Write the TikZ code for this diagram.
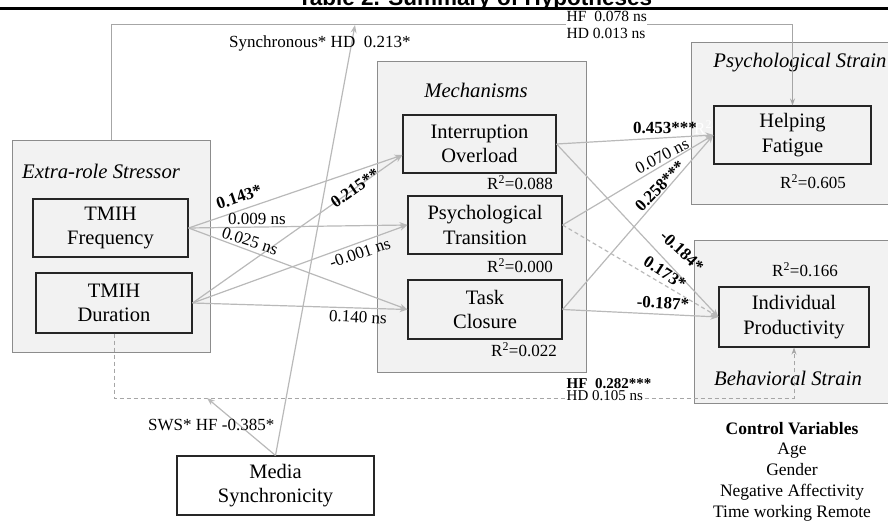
\documentclass[tikz,border=0pt]{standalone}
\usepackage{fontspec}
\setmainfont{Liberation Serif}
\newfontfamily\headfont{Liberation Sans}
\usetikzlibrary{arrows.meta, calc}

\begin{document}
\begin{tikzpicture}[x=1pt, y=-1pt,
    grp/.style={draw=black!45, fill=black!5, line width=1pt, inner sep=0pt},
    var/.style={draw=black!85, fill=black!5, line width=1.1pt, align=center, inner sep=0pt, font=\fontsize{20.5}{24.5}\selectfont},
    grplab/.style={font=\fontsize{20.7}{24}\selectfont\itshape, inner sep=0pt},
    coef/.style={font=\fontsize{17}{19}\selectfont, inner sep=1pt},
    bcoef/.style={font=\fontsize{17}{19}\selectfont\bfseries, inner sep=1pt},
    rsq/.style={font=\fontsize{17}{20}\selectfont, inner sep=0pt},
    link/.style={draw=gray!55, line width=1.2pt, -{Stealth[length=8pt, width=6pt]}},
    rail/.style={draw=gray!70, line width=1pt, -{Stealth[length=7pt, width=5pt]}},
    dashy/.style={dash pattern=on 4pt off 3pt}
]
\useasboundingbox (0,0) rectangle (888,521);
\clip (0,0) rectangle (888,521);

% Title strip
\node[font=\headfont\bfseries\fontsize{22.5}{26}\selectfont, anchor=base, inner sep=0pt] (title) at (475,5.5) {Table 2. Summary of Hypotheses};
\draw[line width=2.5pt] (0,8.5) -- (888,8.5);

% Groups
\node[grp, minimum width=198pt, minimum height=211pt] (stress) at (111,246.5) {};
\node[grp, minimum width=209pt, minimum height=310pt] (mech) at (481.5,217) {};
\node[grp, minimum width=214pt, minimum height=162pt] (psych) at (798,124) {};
\node[grp, minimum width=211pt, minimum height=162pt] (behav) at (799.5,322) {};

\node[grplab, anchor=west] (stresslab) at (22,171) {Extra-role Stressor};
\node[grplab] (mechlab) at (476,90) {Mechanisms};
\node[grplab] (psychlab) at (800,63) {Psychological Strain};
\node[grplab] (behavlab) at (788,378) {Behavioral Strain};

% hidden label behind the box
\node[rsq, text=white, anchor=west] (hidr) at (694,128) {R\textsuperscript{2}=0.000};

% Variables
\node[var, minimum width=155pt, minimum height=58pt] (freq) at (110.5,228) {TMIH\\Frequency};
\node[var, minimum width=156pt, minimum height=60pt] (dur) at (114,303) {TMIH\\Duration};
\node[var, minimum width=153pt, minimum height=58pt] (inter) at (479.5,144) {Interruption\\Overload};
\node[var, minimum width=154pt, minimum height=58pt] (trans) at (485,225) {Psychological\\Transition};
\node[var, minimum width=154pt, minimum height=59pt] (task) at (485,309.5) {Task\\Closure};
\node[var, minimum width=157pt, minimum height=58pt] (help) at (792.5,135) {Helping\\Fatigue};
\node[var, minimum width=150pt, minimum height=60pt] (prod) at (794,317) {Individual\\Productivity};
\node[var, fill=white, minimum width=197pt, minimum height=59pt] (media) at (275.5,485.5) {Media\\Synchronicity};

% R squared
\node[rsq, anchor=east] (r1) at (553,183) {R\textsuperscript{2}=0.088};
\node[rsq, anchor=east] (r2) at (553,266) {R\textsuperscript{2}=0.000};
\node[rsq, anchor=east] (r3) at (557,350) {R\textsuperscript{2}=0.022};
\node[rsq] (r4) at (813,182) {R\textsuperscript{2}=0.605};
\node[rsq] (r5) at (805,270) {R\textsuperscript{2}=0.166};

% Paths
\coordinate (interin) at ([yshift=-11pt]inter.west);
\draw[link] (freq.east) -- (interin);
\draw[link] (freq.east) -- (trans.west);
\draw[link] (freq.east) -- (task.west);
\draw[link] (dur.east) -- (interin);
\draw[link] (dur.east) -- (trans.west);
\draw[link] (dur.east) -- (task.west);
\draw[link] (inter.east) -- (help.west);
\draw[link] (inter.east) -- (prod.west);
\draw[link] (trans.east) -- (help.west);
\draw[link, dashy] (trans.east) -- (prod.west);
\draw[link] (task.east) -- (help.west);
\draw[link] (task.east) -- (prod.west);

% Direct effects of the stressor
\coordinate (railtop) at (111,25);
\coordinate (railbot) at (114,398);
\draw[rail] (stress.north) -- (railtop) -| (help.north);
\draw[rail, dashy] (dur.south) -- (railbot) -| (prod.south);

% Moderator
\coordinate (modtop) at (355,25);
\coordinate (modbot) at (207,398);
\draw[link] (media.north) -- (modtop);
\draw[link] (media.north) -- (modbot);

% Coefficients
\node[bcoef, rotate=19] (c1) at (239,197) {0.143*};
\node[coef] (c2) at (257,219) {0.009 ns};
\node[coef, rotate=-18] (c3) at (250,241) {0.025 ns};
\node[bcoef, rotate=35] (c4) at (355,188) {0.215**};
\node[coef, rotate=19] (c5) at (360,253) {-0.001 ns};
\node[coef, rotate=-3] (c6) at (358,317) {0.140 ns};
\node[bcoef] (c7) at (665,128) {0.453***};
\node[coef, rotate=27] (c8) at (662,156) {0.070 ns};
\node[bcoef, rotate=46] (c9) at (660,186) {0.258***};
\node[bcoef, rotate=-43] (c10) at (682,251) {-0.184*};
\node[bcoef, rotate=-33] (c11) at (665,273) {0.173*};
\node[bcoef, rotate=-3] (c12) at (663,303) {-0.187*};

\node[coef, fill=white, align=left, anchor=west, inner sep=0.5pt, font=\fontsize{15.5}{17}\selectfont] (hftop) at (566,25) {HF\ \ 0.078 ns\\HD 0.013 ns};
\node[coef, anchor=west] (synch) at (228,43) {Synchronous* HD\ \ 0.213*};
\node[coef, anchor=west] (sws) at (147,425) {SWS* HF -0.385*};
\node[coef, fill=white, anchor=west, inner sep=0.5pt, font=\fontsize{15}{17}\selectfont] (hdbot) at (566,396) {HD 0.105 ns};
\node[bcoef, anchor=west, inner sep=0.5pt, font=\fontsize{15}{17}\selectfont\bfseries] (hfbot) at (566,384) {HF\ \ 0.282***};

% Controls
\node[font=\fontsize{17.5}{20.75}\selectfont, align=center] (ctrl) at (792,471.5) {\textbf{Control Variables}\\Age\\Gender\\Negative Affectivity\\Time working Remote};
\end{tikzpicture}
\end{document}
